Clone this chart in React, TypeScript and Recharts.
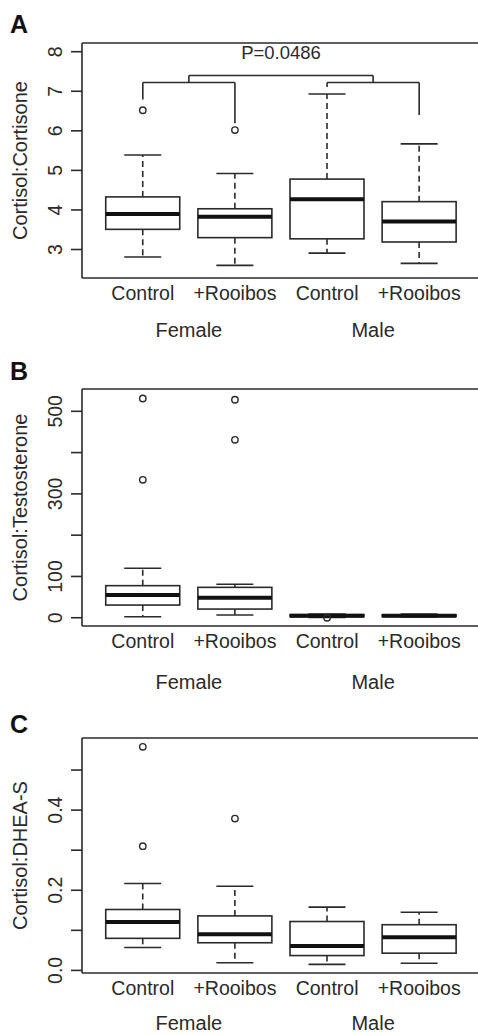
import React from "react";
import { ComposedChart, Bar, Scatter, XAxis, YAxis, ReferenceLine, ReferenceDot } from "recharts";

const FONT = "'Liberation Sans', Arial, Helvetica, sans-serif";
const INK = "#2a2a2a";
const LINE_W = 1.6;

const categories = ["Control", "+Rooibos", "Control", "+Rooibos"];
const groups = ["Female", "Male"];
const positions = [1, 2, 3, 4];
const groupPositions = [1.5, 3.5];
const xDomain = [0.34, 4.66];

// A: Cortisol:Cortisone
const cortisoneLow = [2.81, 2.6, 2.91, 2.65];
const cortisoneQ1 = [3.51, 3.3, 3.27, 3.19];
const cortisoneMedian = [3.9, 3.83, 4.27, 3.71];
const cortisoneQ3 = [4.33, 4.03, 4.78, 4.21];
const cortisoneHigh = [5.39, 4.92, 6.93, 5.67];
const cortisoneOutliers = [[6.52], [6.02], [], []];
const cortisoneTicks = [3, 4, 5, 6, 7, 8];
const cortisoneTickLabels = ["3", "4", "5", "6", "7", "8"];

// B: Cortisol:Testosterone
const testosteroneLow = [2.4, 6.5, 1, 2];
const testosteroneQ1 = [30.7, 21, 2.5, 3];
const testosteroneMedian = [55, 48.5, 5, 5];
const testosteroneQ3 = [77.7, 73.6, 7.5, 7];
const testosteroneHigh = [119.7, 81, 9, 9];
const testosteroneOutliers = [[334, 531], [431, 528], [0], []];
const testosteroneTicks = [0, 100, 200, 300, 400, 500];
const testosteroneTickLabels = ["0", "100", "", "300", "", "500"];

// C: Cortisol:DHEA-S
const dheasLow = [0.057, 0.019, 0.015, 0.018];
const dheasQ1 = [0.08, 0.069, 0.037, 0.043];
const dheasMedian = [0.121, 0.09, 0.061, 0.083];
const dheasQ3 = [0.152, 0.136, 0.122, 0.114];
const dheasHigh = [0.217, 0.21, 0.158, 0.145];
const dheasOutliers = [[0.31, 0.558], [0.379], [], []];
const dheasTicks = [0, 0.1, 0.2, 0.3, 0.4, 0.5];
const dheasTickLabels = ["0.0", "", "0.2", "", "0.4", ""];

// significance bracket on panel A (polylines in data units)
const bracketLines = [
	[[1, 6.79], [1, 7.22], [2, 7.22], [2, 6.19]],
	[[3, 7.11], [3, 7.22], [4, 7.22], [4, 6.4]],
	[[1.5, 7.22], [1.5, 7.4], [3.5, 7.4], [3.5, 7.22]],
];
const pValueText = "P=0.0486";
const pValuePos = [2.5, 7.97];

const buildBoxes = (low, q1, med, q3, high) =>
	positions.map((x, i) => ({
		x,
		low: low[i],
		q1: q1[i],
		med: med[i],
		q3: q3[i],
		high: high[i],
		box: [q1[i], q3[i]],
	}));

const buildOutliers = (outliers) =>
	outliers.flatMap((vals, i) => vals.map((v) => ({ x: positions[i], y: v })));

const panels = [
	{
		letter: "A",
		top: 0,
		plotHeight: 235,
		groupMargin: 15,
		title: "Cortisol:Cortisone",
		domain: [2.28, 8.22],
		ticks: cortisoneTicks,
		tickLabels: cortisoneTickLabels,
		boxes: buildBoxes(cortisoneLow, cortisoneQ1, cortisoneMedian, cortisoneQ3, cortisoneHigh),
		outliers: buildOutliers(cortisoneOutliers),
		bracket: true,
	},
	{
		letter: "B",
		top: 346,
		plotHeight: 237,
		groupMargin: 19,
		title: "Cortisol:Testosterone",
		domain: [-20, 554],
		ticks: testosteroneTicks,
		tickLabels: testosteroneTickLabels,
		boxes: buildBoxes(testosteroneLow, testosteroneQ1, testosteroneMedian, testosteroneQ3, testosteroneHigh),
		outliers: buildOutliers(testosteroneOutliers),
		bracket: false,
	},
	{
		letter: "C",
		top: 695,
		plotHeight: 235,
		groupMargin: 13,
		title: "Cortisol:DHEA-S",
		domain: [-0.0065, 0.58],
		ticks: dheasTicks,
		tickLabels: dheasTickLabels,
		boxes: buildBoxes(dheasLow, dheasQ1, dheasMedian, dheasQ3, dheasHigh),
		outliers: buildOutliers(dheasOutliers),
		bracket: false,
	},
];

const letterBaselines = [33, 380, 733];

// box + whiskers, positions derived from the bar's own q1..q3 geometry
const BoxShape = (props: any) => {
	const { x, y, width, height, payload } = props;
	const { low, q1, med, q3, high } = payload;
	const top = Math.min(y, y + height);
	const bottom = Math.max(y, y + height);
	const unit = (bottom - top) / (q3 - q1);
	const py = (v: number) => bottom - (v - q1) * unit;
	const cx = x + width / 2;
	const cap = width / 4;
	return (
		<g>
			<line x1={cx} x2={cx} y1={top} y2={py(high)} stroke={INK} strokeWidth={LINE_W} strokeDasharray="6 4" />
			<line x1={cx} x2={cx} y1={bottom} y2={py(low)} stroke={INK} strokeWidth={LINE_W} strokeDasharray="6 4" />
			<line x1={cx - cap} x2={cx + cap} y1={py(high)} y2={py(high)} stroke={INK} strokeWidth={LINE_W} />
			<line x1={cx - cap} x2={cx + cap} y1={py(low)} y2={py(low)} stroke={INK} strokeWidth={LINE_W} />
			<rect x={x} y={top} width={width} height={bottom - top} fill="#fff" stroke={INK} strokeWidth={LINE_W} />
			<line x1={x} x2={x + width} y1={py(med)} y2={py(med)} stroke="#111" strokeWidth={4} />
		</g>
	);
};

const OutlierDot = (props: any) => {
	const { cx, cy } = props;
	return <circle cx={cx} cy={cy} r={3.2} fill="none" stroke={INK} strokeWidth={1.4} />;
};

const YTick = (props: any) => {
	const { x, y, payload, ticks, labels } = props;
	const text = labels[ticks.indexOf(payload.value)];
	if (!text) return <g />;
	return (
		<text
			x={x}
			y={y}
			transform={`rotate(-90, ${x}, ${y})`}
			textAnchor="middle"
			dy="0.35em"
			fontSize={19.5}
			fill={INK}
			fontFamily={FONT}
		>
			{text}
		</text>
	);
};

const YTitle = (props: any) => {
	const vb = props.viewBox || { x: 0, y: 0, width: 0, height: 0 };
	const cy = vb.y + vb.height / 2;
	const cx = 20;
	return (
		<text
			x={cx}
			y={cy}
			transform={`rotate(-90, ${cx}, ${cy})`}
			textAnchor="middle"
			dy="0.35em"
			fontSize={20}
			fill={INK}
			fontFamily={FONT}
		>
			{props.text}
		</text>
	);
};

const Panel = ({ p }: any) => {
	const chartHeight = 43 + p.plotHeight + 30 + 45;
	return (
		<div style={{ position: "absolute", left: 0, top: p.top }}>
			<ComposedChart
				width={480}
				height={chartHeight}
				data={p.boxes}
				margin={{ top: 43, right: 0, bottom: 0, left: 0 }}
				style={{ fontFamily: FONT }}
			>
				<XAxis
					dataKey="x"
					type="number"
					domain={xDomain}
					ticks={positions}
					interval={0}
					allowDataOverflow
					tickFormatter={(v) => categories[positions.indexOf(v)]}
					tickLine={false}
					tickSize={0}
					tickMargin={8}
					height={30}
					axisLine={{ stroke: INK, strokeWidth: LINE_W }}
					tick={{ fontSize: 19.5, fill: INK }}
				/>
				<XAxis
					xAxisId="g"
					dataKey="x"
					type="number"
					domain={xDomain}
					ticks={groupPositions}
					interval={0}
					allowDataOverflow
					tickFormatter={(v) => groups[groupPositions.indexOf(v)]}
					tickLine={false}
					axisLine={false}
					tickSize={0}
					tickMargin={p.groupMargin}
					height={45}
					tick={{ fontSize: 20, fill: INK }}
				/>
				<YAxis
					type="number"
					domain={p.domain}
					ticks={p.ticks}
					interval={0}
					allowDataOverflow
					width={82}
					tickSize={11}
					tickMargin={16}
					axisLine={{ stroke: INK, strokeWidth: LINE_W }}
					tickLine={{ stroke: INK, strokeWidth: LINE_W }}
					tick={(tp) => <YTick {...tp} ticks={p.ticks} labels={p.tickLabels} />}
					label={{ content: (lp: any) => <YTitle {...lp} text={p.title} /> }}
				/>
				<ReferenceLine y={p.domain[1]} stroke={INK} strokeWidth={LINE_W} ifOverflow="visible" />
				{p.bracket &&
					bracketLines.flatMap((pts, li) =>
						pts.slice(1).map((pt, si) => (
							<ReferenceLine
								key={`br-${li}-${si}`}
								segment={[
									{ x: pts[si][0], y: pts[si][1] },
									{ x: pt[0], y: pt[1] },
								]}
								stroke={INK}
								strokeWidth={LINE_W}
								ifOverflow="visible"
							/>
						))
					)}
				{p.bracket && (
					<ReferenceDot
						x={pValuePos[0]}
						y={pValuePos[1]}
						r={0}
						fill="none"
						stroke="none"
						ifOverflow="visible"
						label={{ value: pValueText, position: "center", fontSize: 18.5, fill: INK }}
					/>
				)}
				<Bar dataKey="box" barSize={74} shape={BoxShape} isAnimationActive={false} />
				<Scatter data={p.outliers} dataKey="y" shape={OutlierDot} isAnimationActive={false} />
			</ComposedChart>
		</div>
	);
};

const App = () => {
	return (
		<div
			style={{
				position: "absolute",
				left: 0,
				top: 0,
				width: 478,
				height: 1035,
				overflow: "hidden",
				background: "#fff",
				fontFamily: FONT,
			}}
		>
			{panels.map((p) => (
				<Panel key={p.letter} p={p} />
			))}
			<svg width={478} height={1035} style={{ position: "absolute", left: 0, top: 0, pointerEvents: "none" }}>
				{panels.map((p, i) => (
					<text key={p.letter} x={10} y={letterBaselines[i]} fontSize={25} fontWeight="bold" fill="#111" fontFamily={FONT}>
						{p.letter}
					</text>
				))}
			</svg>
		</div>
	);
};

export default App;
